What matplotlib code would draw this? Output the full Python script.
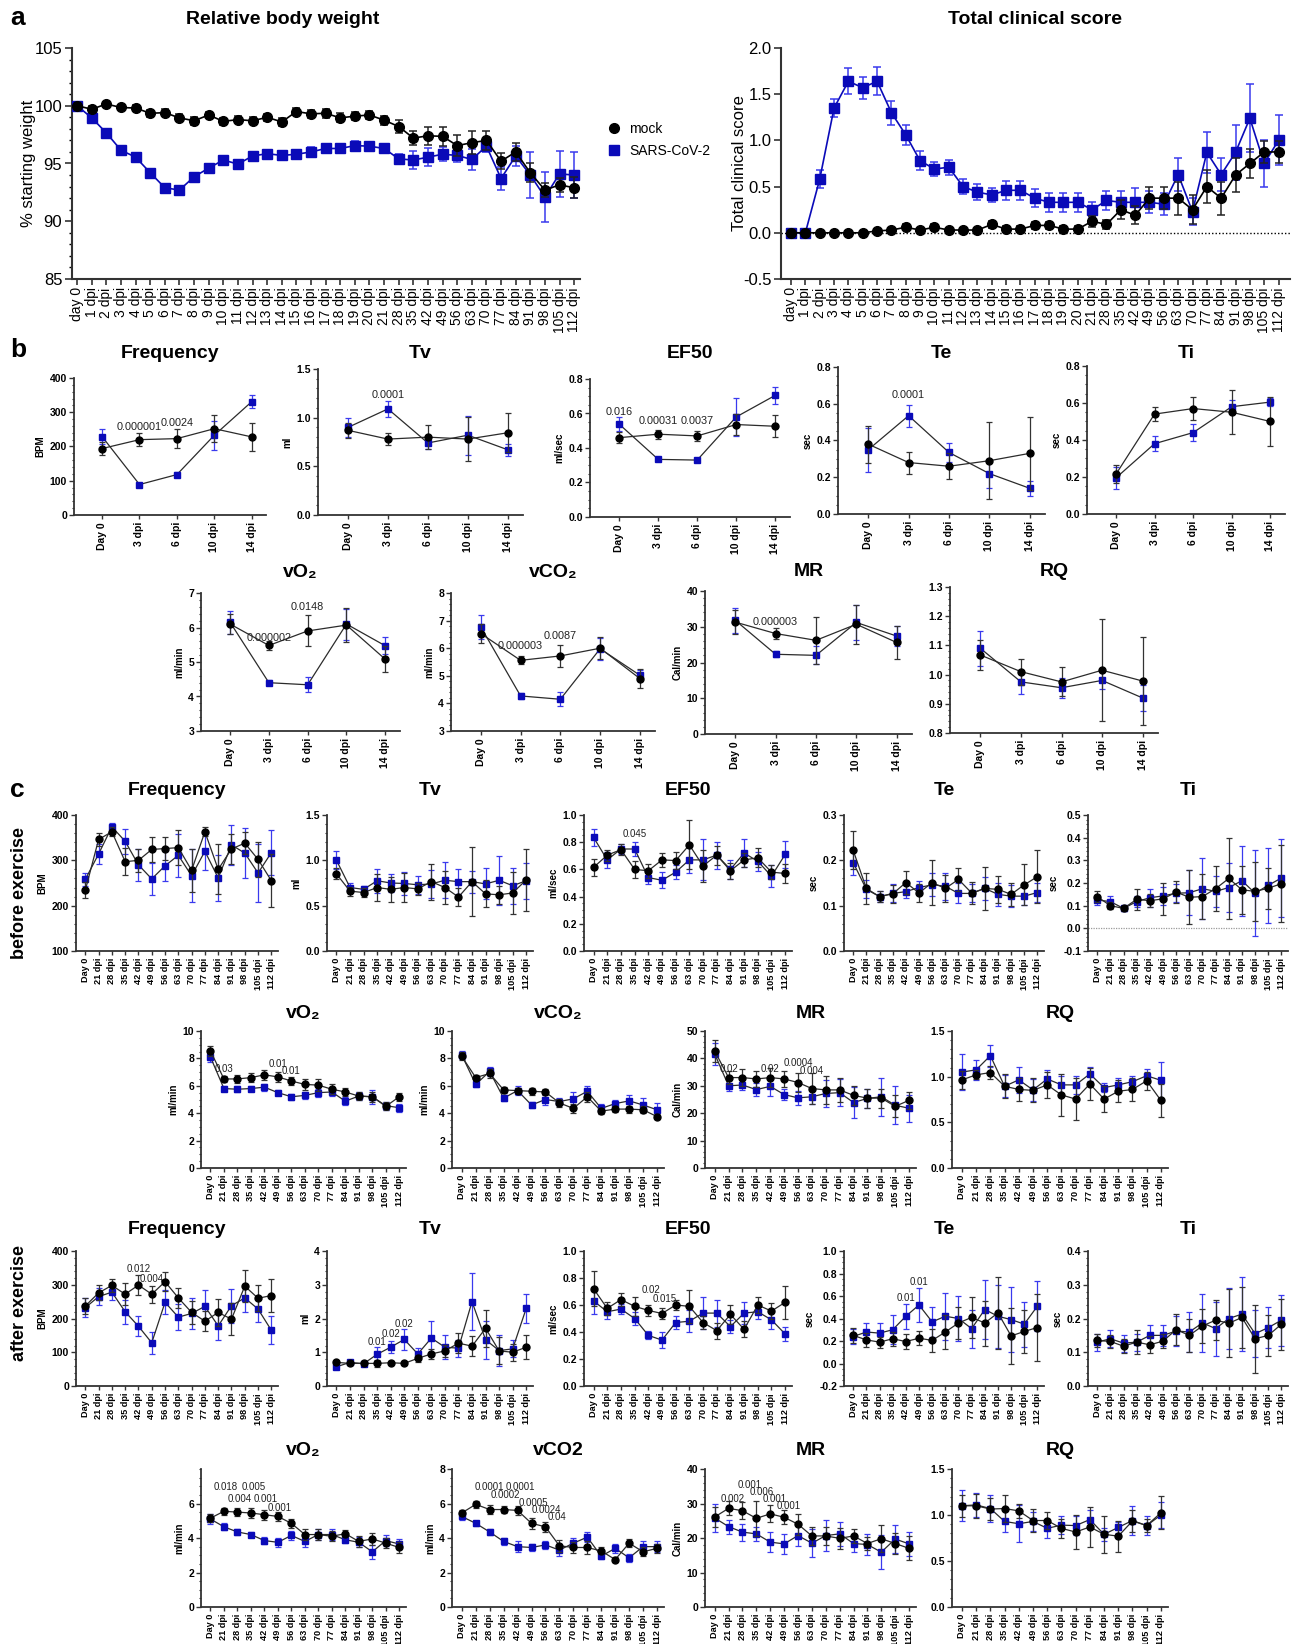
import numpy as np
import matplotlib
matplotlib.use('Agg')
import matplotlib.pyplot as plt
from matplotlib.lines import Line2D
from matplotlib.ticker import MultipleLocator, AutoMinorLocator, FormatStrFormatter, FixedLocator

plt.rcParams['font.family'] = ['Liberation Sans', 'DejaVu Sans']

# ---------------- DATA ----------------
a_ticks = ['day 0', '1 dpi', '2 dpi', '3 dpi', '4 dpi', '5 dpi', '6 dpi', '7 dpi', '8 dpi', '9 dpi',
           '10 dpi', '11 dpi', '12 dpi', '13 dpi', '14 dpi', '15 dpi', '16 dpi', '17 dpi', '18 dpi',
           '19 dpi', '20 dpi', '21 dpi', '28 dpi', '35 dpi', '42 dpi', '49 dpi', '56 dpi', '63 dpi',
           '70 dpi', '77 dpi', '84 dpi', '91 dpi', '98 dpi', '105 dpi', '112 dpi']

bw_mock = [100.0, 99.7, 100.15, 99.85, 99.8, 99.35, 99.4, 98.95, 98.7, 99.2, 98.65, 98.8, 98.7, 99.0,
           98.6, 99.5, 99.3, 99.35, 98.95, 99.1, 99.2, 98.75, 98.2, 97.2, 97.4, 97.35, 96.55, 96.8,
           97.0, 95.2, 96.0, 94.2, 92.7, 93.15, 92.9]
bw_mock_err = [0.1, 0.25, 0.2, 0.2, 0.25, 0.3, 0.3, 0.3, 0.35, 0.3, 0.3, 0.3, 0.3, 0.3, 0.35, 0.3,
               0.35, 0.4, 0.4, 0.35, 0.35, 0.4, 0.6, 0.6, 0.8, 0.8, 0.9, 1.0, 0.8, 0.7, 0.8, 0.8,
               0.6, 0.6, 0.9]
bw_sars = [100.0, 98.95, 97.65, 96.15, 95.55, 94.2, 92.9, 92.7, 93.85, 94.6, 95.3, 94.95, 95.65,
           95.85, 95.7, 95.8, 96.0, 96.3, 96.3, 96.55, 96.5, 96.3, 95.4, 95.3, 95.55, 95.8, 95.7,
           95.35, 96.5, 93.7, 95.65, 94.0, 92.1, 94.1, 94.0]
bw_sars_err = [0.1, 0.15, 0.15, 0.15, 0.2, 0.25, 0.3, 0.35, 0.3, 0.3, 0.3, 0.25, 0.25, 0.25, 0.2,
               0.4, 0.4, 0.4, 0.4, 0.4, 0.4, 0.4, 0.4, 0.8, 0.8, 0.6, 0.6, 0.9, 0.5, 1.0, 0.9,
               2.0, 2.2, 2.0, 2.0]

cs_mock = [0, 0, 0, 0, 0, 0, 0.02, 0.03, 0.06, 0.03, 0.06, 0.03, 0.03, 0.03, 0.09, 0.04, 0.04,
           0.08, 0.08, 0.04, 0.04, 0.125, 0.09, 0.25, 0.19, 0.375, 0.375, 0.375, 0.25, 0.5, 0.375,
           0.625, 0.75, 0.875, 0.875]
cs_mock_err = [0, 0, 0, 0, 0, 0, 0.02, 0.02, 0.03, 0.02, 0.03, 0.02, 0.02, 0.02, 0.04, 0.03, 0.03,
               0.04, 0.04, 0.03, 0.03, 0.06, 0.05, 0.1, 0.1, 0.12, 0.12, 0.18, 0.16, 0.18, 0.18,
               0.18, 0.16, 0.12, 0.12]
cs_sars = [0, 0, 0.58, 1.35, 1.64, 1.57, 1.64, 1.30, 1.06, 0.78, 0.69, 0.71, 0.50, 0.44, 0.41,
           0.46, 0.46, 0.375, 0.33, 0.33, 0.33, 0.25, 0.35, 0.33, 0.33, 0.33, 0.31, 0.63, 0.23,
           0.87, 0.63, 0.87, 1.24, 0.75, 1.0]
cs_sars_err = [0, 0, 0.1, 0.1, 0.14, 0.12, 0.15, 0.13, 0.11, 0.1, 0.08, 0.08, 0.08, 0.09, 0.08,
               0.1, 0.1, 0.1, 0.1, 0.1, 0.1, 0.08, 0.1, 0.12, 0.16, 0.12, 0.12, 0.18, 0.15, 0.22,
               0.18, 0.3, 0.37, 0.25, 0.27]

b_ticks = ['Day 0', '3 dpi', '6 dpi', '10 dpi', '14 dpi']

b_freq_mock = [194, 220, 223, 252, 228]
b_freq_mock_err = [18, 18, 28, 40, 40]
b_freq_sars = [229, 89, 118, 233, 331]
b_freq_sars_err = [22, 5, 8, 42, 18]
b_freq_p = [('0.000001', 1, 257), ('0.0024', 2, 268)]

b_tv_mock = [0.87, 0.78, 0.80, 0.78, 0.845]
b_tv_mock_err = [0.08, 0.06, 0.12, 0.23, 0.2]
b_tv_sars = [0.90, 1.09, 0.74, 0.82, 0.67]
b_tv_sars_err = [0.1, 0.08, 0.06, 0.2, 0.06]
b_tv_p = [('0.0001', 1, 1.23)]

b_ef50_mock = [0.46, 0.48, 0.47, 0.536, 0.526]
b_ef50_mock_err = [0.03, 0.025, 0.03, 0.06, 0.065]
b_ef50_sars = [0.538, 0.334, 0.33, 0.58, 0.705]
b_ef50_sars_err = [0.04, 0.01, 0.01, 0.11, 0.05]
b_ef50_p = [('0.016', 0, 0.61), ('0.00031', 1, 0.555), ('0.0037', 2, 0.555)]

b_te_mock = [0.38, 0.28, 0.26, 0.29, 0.33]
b_te_mock_err = [0.1, 0.06, 0.07, 0.21, 0.2]
b_te_sars = [0.35, 0.535, 0.335, 0.22, 0.14]
b_te_sars_err = [0.12, 0.06, 0.05, 0.08, 0.04]
b_te_p = [('0.0001', 1, 0.645)]

b_ti_mock = [0.215, 0.54, 0.57, 0.55, 0.50]
b_ti_mock_err = [0.05, 0.04, 0.06, 0.12, 0.13]
b_ti_sars = [0.195, 0.38, 0.44, 0.58, 0.605]
b_ti_sars_err = [0.06, 0.04, 0.045, 0.035, 0.02]

b_vo2_mock = [6.1, 5.48, 5.9, 6.07, 5.08]
b_vo2_mock_err = [0.3, 0.12, 0.45, 0.5, 0.38]
b_vo2_sars = [6.15, 4.4, 4.34, 6.1, 5.47]
b_vo2_sars_err = [0.33, 0.08, 0.22, 0.45, 0.25]
b_vo2_p = [('0.000002', 1, 5.7), ('0.0148', 2, 6.58)]

b_vco2_mock = [6.53, 5.56, 5.72, 6.0, 4.9]
b_vco2_mock_err = [0.35, 0.15, 0.4, 0.4, 0.35]
b_vco2_sars = [6.77, 4.27, 4.15, 5.98, 5.02]
b_vco2_sars_err = [0.42, 0.1, 0.25, 0.4, 0.2]
b_vco2_p = [('0.000003', 1, 6.08), ('0.0087', 2, 6.44)]

b_mr_mock = [31.3, 28.1, 26.2, 30.7, 25.6]
b_mr_mock_err = [3.3, 1.5, 6.5, 5.5, 4.5]
b_mr_sars = [31.8, 22.3, 22.0, 31.2, 27.4]
b_mr_sars_err = [3.5, 0.8, 2.5, 5.0, 2.8]
b_mr_p = [('0.000003', 1, 31.3)]

b_rq_mock = [1.067, 1.01, 0.975, 1.015, 0.978]
b_rq_mock_err = [0.05, 0.045, 0.05, 0.175, 0.15]
b_rq_sars = [1.09, 0.975, 0.955, 0.98, 0.92]
b_rq_sars_err = [0.06, 0.04, 0.035, 0.03, 0.045]

c_ticks = ['Day 0', '21 dpi', '28 dpi', '35 dpi', '42 dpi', '49 dpi', '56 dpi', '63 dpi', '70 dpi',
           '77 dpi', '84 dpi', '91 dpi', '98 dpi', '105 dpi', '112 dpi']

# before exercise
cb_freq_mock = [234, 346, 363, 297, 300, 324, 326, 328, 278, 363, 280, 325, 338, 302, 255]
cb_freq_mock_err = [18, 15, 10, 30, 25, 28, 25, 38, 48, 10, 55, 32, 25, 38, 58]
cb_freq_sars = [258, 314, 374, 342, 290, 259, 288, 311, 266, 320, 261, 334, 316, 272, 317]
cb_freq_sars_err = [15, 22, 8, 28, 36, 36, 33, 48, 58, 42, 50, 45, 55, 65, 50]

cb_tv_mock = [0.85, 0.66, 0.645, 0.70, 0.68, 0.70, 0.685, 0.765, 0.70, 0.595, 0.765, 0.63, 0.62, 0.64, 0.785]
cb_tv_mock_err = [0.06, 0.05, 0.05, 0.15, 0.14, 0.16, 0.07, 0.2, 0.18, 0.1, 0.38, 0.15, 0.1, 0.23, 0.34]
cb_tv_sars = [1.0, 0.70, 0.68, 0.775, 0.75, 0.745, 0.73, 0.74, 0.78, 0.765, 0.765, 0.74, 0.78, 0.72, 0.775]
cb_tv_sars_err = [0.1, 0.05, 0.04, 0.13, 0.1, 0.13, 0.1, 0.15, 0.2, 0.14, 0.12, 0.17, 0.27, 0.2, 0.2]

cb_ef50_mock = [0.615, 0.705, 0.745, 0.60, 0.59, 0.67, 0.665, 0.78, 0.625, 0.705, 0.59, 0.67, 0.685, 0.58, 0.57]
cb_ef50_mock_err = [0.06, 0.04, 0.04, 0.06, 0.05, 0.05, 0.06, 0.18, 0.12, 0.07, 0.06, 0.05, 0.07, 0.05, 0.07]
cb_ef50_sars = [0.835, 0.67, 0.75, 0.75, 0.54, 0.52, 0.58, 0.67, 0.67, 0.705, 0.60, 0.72, 0.66, 0.55, 0.71]
cb_ef50_sars_err = [0.06, 0.06, 0.04, 0.05, 0.05, 0.06, 0.05, 0.1, 0.15, 0.1, 0.07, 0.1, 0.07, 0.08, 0.1]
cb_ef50_p = [('0.045', 3, 0.86)]

cb_te_mock = [0.222, 0.138, 0.12, 0.126, 0.151, 0.128, 0.151, 0.138, 0.158, 0.128, 0.138, 0.136, 0.125, 0.146, 0.164]
cb_te_mock_err = [0.042, 0.035, 0.012, 0.02, 0.025, 0.02, 0.05, 0.03, 0.025, 0.025, 0.048, 0.03, 0.025, 0.045, 0.058]
cb_te_sars = [0.195, 0.136, 0.12, 0.127, 0.131, 0.14, 0.146, 0.143, 0.127, 0.127, 0.138, 0.125, 0.121, 0.121, 0.129]
cb_te_sars_err = [0.028, 0.02, 0.012, 0.02, 0.015, 0.015, 0.025, 0.03, 0.022, 0.02, 0.025, 0.025, 0.025, 0.02, 0.02]

cb_ti_mock = [0.14, 0.10, 0.088, 0.128, 0.122, 0.13, 0.16, 0.137, 0.14, 0.175, 0.22, 0.17, 0.163, 0.177, 0.197]
cb_ti_mock_err = [0.025, 0.015, 0.01, 0.045, 0.03, 0.07, 0.05, 0.12, 0.1, 0.1, 0.18, 0.105, 0.13, 0.09, 0.17]
cb_ti_sars = [0.125, 0.118, 0.088, 0.118, 0.135, 0.143, 0.155, 0.157, 0.175, 0.163, 0.18, 0.21, 0.155, 0.19, 0.222]
cb_ti_sars_err = [0.02, 0.025, 0.01, 0.025, 0.04, 0.04, 0.04, 0.1, 0.135, 0.07, 0.11, 0.155, 0.19, 0.165, 0.17]

cb_vo2_mock = [8.55, 6.5, 6.5, 6.6, 6.8, 6.65, 6.35, 6.1, 6.05, 5.75, 5.55, 5.25, 5.2, 4.5, 5.2]
cb_vo2_mock_err = [0.35, 0.2, 0.3, 0.3, 0.35, 0.35, 0.3, 0.4, 0.45, 0.35, 0.3, 0.3, 0.35, 0.3, 0.3]
cb_vo2_sars = [8.1, 5.8, 5.75, 5.8, 5.9, 5.5, 5.2, 5.3, 5.5, 5.55, 4.88, 5.25, 5.2, 4.55, 4.4]
cb_vo2_sars_err = [0.35, 0.2, 0.2, 0.2, 0.25, 0.2, 0.2, 0.25, 0.3, 0.3, 0.3, 0.3, 0.5, 0.3, 0.3]
cb_vo2_p = [('0.03', 1, 7.2), ('0.01', 5, 7.6), ('0.01', 6, 7.1)]

cb_vco2_mock = [8.15, 6.6, 6.9, 5.7, 5.65, 5.6, 5.55, 4.75, 4.35, 5.2, 4.15, 4.3, 4.3, 4.25, 3.75]
cb_vco2_mock_err = [0.3, 0.2, 0.3, 0.2, 0.2, 0.25, 0.25, 0.3, 0.3, 0.35, 0.2, 0.2, 0.25, 0.25, 0.2]
cb_vco2_sars = [8.25, 6.1, 7.05, 5.1, 5.65, 4.6, 5.0, 4.85, 5.05, 5.6, 4.35, 4.7, 4.9, 4.6, 4.25]
cb_vco2_sars_err = [0.3, 0.2, 0.35, 0.2, 0.3, 0.2, 0.4, 0.25, 0.5, 0.4, 0.3, 0.25, 0.45, 0.5, 0.5]

cb_mr_mock = [42.7, 33.0, 33.0, 32.5, 33.0, 32.5, 31.2, 29.0, 28.5, 28.5, 26.5, 25.5, 25.5, 22.5, 24.7]
cb_mr_mock_err = [4, 2.5, 3, 3, 3.5, 3, 3.5, 5.5, 5, 4.5, 3.5, 3.5, 3.5, 4, 3]
cb_mr_sars = [41.6, 30.0, 30.3, 28.6, 29.8, 26.8, 25.6, 26.0, 27.2, 27.5, 23.9, 25.4, 26.0, 22.9, 21.8]
cb_mr_sars_err = [4, 2, 2, 2.5, 3.5, 2, 2.5, 2.5, 5, 5, 5.5, 3.5, 7, 7, 5]
cb_mr_p = [('0.02', 1, 36.3), ('0.02', 4, 36.3), ('0.0004', 6, 38.3), ('0.004', 7, 35.5)]

cb_rq_mock = [0.965, 1.02, 1.045, 0.895, 0.86, 0.85, 0.91, 0.80, 0.755, 0.92, 0.755, 0.84, 0.86, 0.955, 0.74]
cb_rq_mock_err = [0.1, 0.05, 0.07, 0.13, 0.13, 0.13, 0.14, 0.23, 0.23, 0.18, 0.14, 0.12, 0.13, 0.1, 0.18]
cb_rq_sars = [1.05, 1.075, 1.23, 0.895, 0.965, 0.855, 0.975, 0.91, 0.91, 1.03, 0.88, 0.91, 0.945, 1.01, 0.96]
cb_rq_sars_err = [0.2, 0.11, 0.12, 0.12, 0.14, 0.12, 0.1, 0.1, 0.1, 0.08, 0.05, 0.08, 0.06, 0.07, 0.2]

# after exercise
ca_freq_mock = [237, 276, 298, 272, 299, 272, 309, 261, 218, 192, 218, 198, 296, 260, 268]
ca_freq_mock_err = [25, 22, 20, 32, 30, 25, 28, 30, 35, 30, 40, 48, 48, 38, 48]
ca_freq_sars = [232, 265, 278, 220, 177, 128, 248, 204, 215, 236, 178, 238, 261, 228, 165]
ca_freq_sars_err = [28, 25, 22, 35, 30, 33, 35, 38, 45, 47, 42, 50, 42, 38, 42]
ca_freq_p = [('0.012', 4, 346), ('0.004', 5, 317)]

ca_tv_mock = [0.7, 0.67, 0.67, 0.67, 0.69, 0.67, 0.82, 0.95, 1.04, 1.27, 1.18, 1.71, 1.04, 1.0, 1.15]
ca_tv_mock_err = [0.05, 0.05, 0.05, 0.1, 0.05, 0.05, 0.1, 0.15, 0.18, 0.3, 0.3, 0.55, 0.4, 0.25, 0.35]
ca_tv_sars = [0.57, 0.70, 0.66, 0.94, 1.15, 1.38, 0.95, 1.42, 1.15, 1.12, 2.5, 1.37, 1.05, 1.1, 2.3]
ca_tv_sars_err = [0.05, 0.05, 0.05, 0.22, 0.18, 0.3, 0.18, 0.5, 0.35, 0.25, 0.85, 0.57, 0.45, 0.25, 0.42]
ca_tv_p = [('0.01', 3, 1.3), ('0.02', 4, 1.55), ('0.02', 5, 1.85)]

ca_ef50_mock = [0.72, 0.575, 0.64, 0.59, 0.56, 0.537, 0.60, 0.59, 0.47, 0.41, 0.53, 0.42, 0.60, 0.555, 0.62]
ca_ef50_mock_err = [0.13, 0.05, 0.05, 0.07, 0.04, 0.04, 0.04, 0.12, 0.05, 0.06, 0.07, 0.06, 0.06, 0.06, 0.12]
ca_ef50_sars = [0.63, 0.55, 0.57, 0.50, 0.375, 0.34, 0.47, 0.48, 0.54, 0.54, 0.44, 0.54, 0.55, 0.49, 0.385]
ca_ef50_sars_err = [0.1, 0.05, 0.04, 0.05, 0.03, 0.06, 0.05, 0.08, 0.12, 0.1, 0.05, 0.08, 0.05, 0.07, 0.05]
ca_ef50_p = [('0.02', 4.2, 0.71), ('0.015', 5.2, 0.645)]

ca_te_mock = [0.25, 0.21, 0.19, 0.22, 0.195, 0.225, 0.205, 0.28, 0.36, 0.41, 0.36, 0.45, 0.245, 0.285, 0.32]
ca_te_mock_err = [0.07, 0.06, 0.05, 0.06, 0.07, 0.06, 0.1, 0.15, 0.14, 0.18, 0.2, 0.32, 0.25, 0.19, 0.3]
ca_te_sars = [0.24, 0.28, 0.27, 0.30, 0.42, 0.52, 0.37, 0.42, 0.40, 0.31, 0.48, 0.42, 0.39, 0.35, 0.51]
ca_te_sars_err = [0.07, 0.08, 0.09, 0.13, 0.11, 0.15, 0.13, 0.21, 0.2, 0.17, 0.26, 0.28, 0.29, 0.2, 0.22]
ca_te_p = [('0.01', 4, 0.58), ('0.01', 5, 0.725)]

ca_ti_mock = [0.135, 0.132, 0.118, 0.13, 0.122, 0.133, 0.167, 0.15, 0.178, 0.195, 0.186, 0.203, 0.14, 0.15, 0.183]
ca_ti_mock_err = [0.02, 0.02, 0.02, 0.035, 0.025, 0.02, 0.045, 0.05, 0.05, 0.06, 0.1, 0.09, 0.1, 0.06, 0.075]
ca_ti_sars = [0.13, 0.14, 0.127, 0.13, 0.15, 0.15, 0.163, 0.16, 0.187, 0.17, 0.2, 0.213, 0.155, 0.173, 0.195]
ca_ti_sars_err = [0.025, 0.025, 0.025, 0.025, 0.03, 0.03, 0.045, 0.06, 0.085, 0.08, 0.09, 0.11, 0.07, 0.06, 0.075]

ca_vo2_mock = [5.15, 5.55, 5.5, 5.45, 5.35, 5.25, 4.85, 4.2, 4.2, 4.1, 4.25, 3.8, 3.95, 3.7, 3.45]
ca_vo2_mock_err = [0.25, 0.2, 0.25, 0.3, 0.3, 0.25, 0.25, 0.3, 0.3, 0.3, 0.2, 0.3, 0.35, 0.3, 0.3]
ca_vo2_sars = [5.1, 4.65, 4.35, 4.2, 3.85, 3.75, 4.15, 3.8, 4.2, 4.2, 3.9, 3.75, 3.2, 3.85, 3.65]
ca_vo2_sars_err = [0.3, 0.2, 0.2, 0.15, 0.2, 0.25, 0.25, 0.3, 0.3, 0.3, 0.2, 0.3, 0.4, 0.3, 0.3]
ca_vo2_p = [('0.018', 1.1, 6.95), ('0.004', 2.2, 6.25), ('0.005', 3.2, 6.95), ('0.001', 4.1, 6.25),
            ('0.001', 5.1, 5.75)]

ca_vco2_mock = [5.45, 5.95, 5.65, 5.65, 5.6, 4.85, 4.65, 3.55, 3.45, 3.45, 3.25, 2.75, 3.7, 3.2, 3.4]
ca_vco2_mock_err = [0.2, 0.2, 0.25, 0.2, 0.25, 0.3, 0.3, 0.35, 0.3, 0.35, 0.2, 0.15, 0.25, 0.25, 0.25]
ca_vco2_sars = [5.25, 4.85, 4.35, 3.8, 3.5, 3.45, 3.6, 3.3, 3.7, 4.05, 2.95, 3.4, 2.85, 3.5, 3.5]
ca_vco2_sars_err = [0.2, 0.15, 0.15, 0.2, 0.3, 0.2, 0.25, 0.35, 0.3, 0.3, 0.15, 0.25, 0.25, 0.3, 0.3]
ca_vco2_p = [('0.0001', 2.0, 6.95), ('0.0002', 3.1, 6.5), ('0.0001', 4.2, 6.95), ('0.0005', 5.1, 6.05),
             ('0.0024', 6.1, 5.6), ('0.04', 6.8, 5.2)]

ca_mr_mock = [26.1, 28.6, 27.9, 25.7, 27.0, 26.0, 24.0, 20.6, 20.6, 19.9, 20.6, 18.4, 19.8, 18.4, 17.0]
ca_mr_mock_err = [3, 2, 2.5, 5, 2.5, 2, 3, 2.5, 2.5, 3, 2, 2, 4, 3, 3.5]
ca_mr_sars = [25.8, 23.3, 21.7, 21.2, 18.8, 18.3, 20.7, 18.5, 20.7, 21.2, 18.4, 18.1, 15.9, 19.7, 18.3]
ca_mr_sars_err = [4, 2, 2.5, 2, 3, 3, 3, 4, 4.5, 3.5, 2.5, 3, 5, 4, 3.5]
ca_mr_p = [('0.002', 1.3, 31.3), ('0.001', 2.5, 35.4), ('0.006', 3.4, 33.4), ('0.001', 4.3, 31.3),
           ('0.001', 5.3, 29.2)]

ca_rq_mock = [1.1, 1.1, 1.065, 1.07, 1.045, 0.94, 0.94, 0.855, 0.815, 0.87, 0.79, 0.77, 0.935, 0.885, 1.025]
ca_rq_mock_err = [0.12, 0.13, 0.12, 0.15, 0.08, 0.12, 0.09, 0.1, 0.18, 0.22, 0.2, 0.17, 0.12, 0.07, 0.18]
ca_rq_sars = [1.1, 1.11, 1.07, 0.93, 0.905, 0.93, 0.855, 0.89, 0.885, 0.95, 0.79, 0.865, 0.94, 0.885, 1.0]
ca_rq_sars_err = [0.17, 0.13, 0.15, 0.12, 0.2, 0.1, 0.1, 0.1, 0.1, 0.1, 0.07, 0.06, 0.16, 0.1, 0.14]

# ---------------- STYLE ----------------
W, H = 1293, 1644
fig = plt.figure(figsize=(W / 100, H / 100), dpi=100)
fig.patch.set_facecolor('white')

SARS_C = '#0a0ab8'
SARS_ERR = '#3a3aee'
LINE_C = '#2b2b2b'
SPINE_C = '#333333'


def new_ax(x0, x1, yt, yb):
    return fig.add_axes([x0 / W, 1 - yb / H, (x1 - x0) / W, (yb - yt) / H])


def style_spines(ax, lw=1.4):
    for s in ['top', 'right']:
        ax.spines[s].set_visible(False)
    for s in ['left', 'bottom']:
        ax.spines[s].set_linewidth(lw)
        ax.spines[s].set_color(SPINE_C)


# ---------------- PANEL a ----------------
xa = np.arange(len(a_ticks))

ax_bw = new_ax(72, 580, 48, 279)
ax_bw.errorbar(xa, bw_sars, yerr=bw_sars_err, fmt='-s', color=SARS_C, lw=1.2, ms=6.5,
               mfc=SARS_C, mec=SARS_C, ecolor=SARS_ERR, elinewidth=1.1, capsize=3, capthick=1.1, zorder=3)
ax_bw.errorbar(xa, bw_mock, yerr=bw_mock_err, fmt='-o', color='black', lw=1.2, ms=7,
               mfc='black', mec='black', ecolor='#222222', elinewidth=1.1, capsize=3, capthick=1.1, zorder=4)
ax_bw.set_xlim(-0.35, len(a_ticks) - 1 + 0.4)
ax_bw.set_ylim(85, 105)
ax_bw.yaxis.set_major_locator(MultipleLocator(5))
ax_bw.yaxis.set_minor_locator(MultipleLocator(1))
ax_bw.set_ylabel('% starting weight', fontsize=12, labelpad=-1)

ax_cs = new_ax(781, 1290, 48, 279)
ax_cs.axhline(0, color='black', lw=1.0, ls=(0, (1, 1.5)), zorder=1)
ax_cs.errorbar(xa, cs_sars, yerr=cs_sars_err, fmt='-s', color=SARS_C, lw=1.2, ms=6.5,
               mfc=SARS_C, mec=SARS_C, ecolor=SARS_ERR, elinewidth=1.1, capsize=3, capthick=1.1, zorder=3)
ax_cs.errorbar(xa, cs_mock, yerr=cs_mock_err, fmt='-o', color='black', lw=1.2, ms=7,
               mfc='black', mec='black', ecolor='#222222', elinewidth=1.1, capsize=3, capthick=1.1, zorder=4)
ax_cs.set_xlim(-0.7, len(a_ticks) - 1 + 0.8)
ax_cs.set_ylim(-0.5, 2.0)
ax_cs.yaxis.set_major_locator(MultipleLocator(0.5))
ax_cs.yaxis.set_major_formatter(FormatStrFormatter('%.1f'))
ax_cs.set_ylabel('Total clinical score', fontsize=12, labelpad=-3)

for ax in (ax_bw, ax_cs):
    style_spines(ax, 1.5)
    ax.set_xticks(xa)
    ax.set_xticklabels(a_ticks, rotation=90, fontsize=10)
    ax.tick_params(axis='y', labelsize=12, length=5, width=1.2, pad=2, colors=SPINE_C, labelcolor='black')
    ax.tick_params(axis='y', which='minor', length=2.5, width=1.0)
    ax.tick_params(axis='x', length=4, width=1.2, pad=2, colors=SPINE_C, labelcolor='black')

fig.text(283 / W, 1 - 19 / H, 'Relative body weight', ha='center', va='center',
         fontsize=14, fontweight='bold')
fig.text(1035 / W, 1 - 19 / H, 'Total clinical score', ha='center', va='center',
         fontsize=14, fontweight='bold')

leg_handles = [Line2D([], [], marker='o', color='black', ls='None', ms=7),
               Line2D([], [], marker='s', color=SARS_C, ls='None', ms=6.5)]
fig.legend(leg_handles, ['mock', 'SARS-CoV-2'], loc='upper left',
           bbox_to_anchor=(600 / W, 1 - 115 / H), frameon=False, fontsize=10,
           handlelength=1.0, handletextpad=0.6, labelspacing=0.55, borderpad=0)

# ---------------- small panels ----------------
def small_panel(rect, ticks, mock, mock_e, sars, sars_e, title, title_y, ylabel, ylim,
                ystep, fmt, pvals=(), zero=False, yticks=None, nminor=5):
    x0, x1, yt, yb = rect
    ax = new_ax(x0, x1, yt, yb)
    x = np.arange(len(ticks))
    if zero:
        ax.axhline(0, color='#9a9a9a', lw=0.9, ls=(0, (1, 1)), zorder=0)
    ax.errorbar(x, sars, yerr=sars_e, fmt='-s', color=LINE_C, lw=0.9, ms=4.8,
                mfc=SARS_C, mec=SARS_C, ecolor=SARS_ERR, elinewidth=0.9, capsize=2.2,
                capthick=0.9, zorder=3)
    ax.errorbar(x, mock, yerr=mock_e, fmt='-o', color=LINE_C, lw=0.9, ms=5,
                mfc='black', mec='black', ecolor='#333333', elinewidth=0.9, capsize=2.2,
                capthick=0.9, zorder=4)
    n = len(ticks)
    if n == 5:
        ax.set_xlim(-0.75, n - 1 + 0.38)
        xfs = 7.5
        pfs = 7.8
    else:
        ax.set_xlim(-0.7, n - 1 + 0.5)
        xfs = 6.6
        pfs = 7.0
    ax.set_ylim(*ylim)
    if yticks is not None:
        ax.yaxis.set_major_locator(FixedLocator(yticks))
    else:
        ax.yaxis.set_major_locator(MultipleLocator(ystep))
    ax.yaxis.set_major_formatter(FormatStrFormatter(fmt))
    ax.yaxis.set_minor_locator(AutoMinorLocator(nminor))
    ax.set_xticks(x)
    ax.set_xticklabels(ticks, rotation=90, fontsize=xfs, fontweight='bold')
    for lbl in ax.get_yticklabels():
        lbl.set_fontweight('bold')
    ax.tick_params(axis='y', labelsize=7.5, length=3.5, width=1.0, pad=1.5,
                   colors=SPINE_C, labelcolor='black')
    ax.tick_params(axis='y', which='minor', length=1.8, width=0.8, colors=SPINE_C)
    ax.tick_params(axis='x', length=3, width=1.0, pad=2, colors=SPINE_C, labelcolor='black')
    style_spines(ax, 1.3)
    ax.set_ylabel(ylabel, fontsize=7, fontweight='bold', labelpad=3)
    for (s, px, py) in pvals:
        ax.text(px, py, s, ha='center', va='center', fontsize=pfs, color='#222222', zorder=5)
    fig.text((x0 + x1) / 2 / W, 1 - title_y / H, title, ha='center', va='center',
             fontsize=14, fontweight='bold')
    return ax


# panel b, row 1
small_panel((74, 266, 378, 515), b_ticks, b_freq_mock, b_freq_mock_err, b_freq_sars, b_freq_sars_err,
            'Frequency', 353, 'BPM', (0, 400), 100, '%d', b_freq_p)
small_panel((318, 523, 369, 515), b_ticks, b_tv_mock, b_tv_mock_err, b_tv_sars, b_tv_sars_err,
            'Tv', 353, 'ml', (0, 1.5), 0.5, '%.1f', b_tv_p)
small_panel((590, 790, 379, 517), b_ticks, b_ef50_mock, b_ef50_mock_err, b_ef50_sars, b_ef50_sars_err,
            'EF50', 353, 'ml/sec', (0, 0.8), 0.2, '%.1f', b_ef50_p, nminor=4)
small_panel((838, 1045, 367, 514), b_ticks, b_te_mock, b_te_mock_err, b_te_sars, b_te_sars_err,
            'Te', 353, 'sec', (0, 0.8), 0.2, '%.1f', b_te_p, nminor=4)
small_panel((1087, 1285, 366, 514), b_ticks, b_ti_mock, b_ti_mock_err, b_ti_sars, b_ti_sars_err,
            'Ti', 353, 'sec', (0, 0.8), 0.2, '%.1f', nminor=4)

# panel b, row 2
small_panel((201, 400, 593, 731), b_ticks, b_vo2_mock, b_vo2_mock_err, b_vo2_sars, b_vo2_sars_err,
            'vO₂', 572, 'ml/min', (3, 7), 1, '%d', b_vo2_p)
small_panel((451, 655, 593, 731), b_ticks, b_vco2_mock, b_vco2_mock_err, b_vco2_sars, b_vco2_sars_err,
            'vCO₂', 572, 'ml/min', (3, 8), 1, '%d', b_vco2_p)
small_panel((705, 912, 591, 734), b_ticks, b_mr_mock, b_mr_mock_err, b_mr_sars, b_mr_sars_err,
            'MR', 572, 'Cal/min', (0, 40), 10, '%d', b_mr_p)
small_panel((950, 1158, 587, 733), b_ticks, b_rq_mock, b_rq_mock_err, b_rq_sars, b_rq_sars_err,
            'RQ', 572, '', (0.8, 1.3), 0.1, '%.1f')

# panel c, before exercise row 1
R1 = (815, 951)
small_panel((76, 278) + R1, c_ticks, cb_freq_mock, cb_freq_mock_err, cb_freq_sars, cb_freq_sars_err,
            'Frequency', 790, 'BPM', (100, 400), 100, '%d')
small_panel((327, 533) + R1, c_ticks, cb_tv_mock, cb_tv_mock_err, cb_tv_sars, cb_tv_sars_err,
            'Tv', 790, 'ml', (0, 1.5), 0.5, '%.1f')
small_panel((584, 792) + R1, c_ticks, cb_ef50_mock, cb_ef50_mock_err, cb_ef50_sars, cb_ef50_sars_err,
            'EF50', 790, 'ml/sec', (0, 1.0), 0.2, '%.1f', cb_ef50_p, nminor=4)
small_panel((844, 1044) + R1, c_ticks, cb_te_mock, cb_te_mock_err, cb_te_sars, cb_te_sars_err,
            'Te', 790, 'sec', (0, 0.3), 0.1, '%.1f')
small_panel((1088, 1288) + R1, c_ticks, cb_ti_mock, cb_ti_mock_err, cb_ti_sars, cb_ti_sars_err,
            'Ti', 790, 'sec', (-0.1, 0.5), 0.1, '%.1f', zero=True)

# panel c, before exercise row 2
R2 = (1031, 1168)
small_panel((201, 406) + R2, c_ticks, cb_vo2_mock, cb_vo2_mock_err, cb_vo2_sars, cb_vo2_sars_err,
            'vO₂', 1013, 'ml/min', (0, 10), 2, '%d', cb_vo2_p, nminor=4)
small_panel((452, 664) + R2, c_ticks, cb_vco2_mock, cb_vco2_mock_err, cb_vco2_sars, cb_vco2_sars_err,
            'vCO₂', 1013, 'ml/min', (0, 10), 2, '%d', nminor=4)
small_panel((705, 916) + R2, c_ticks, cb_mr_mock, cb_mr_mock_err, cb_mr_sars, cb_mr_sars_err,
            'MR', 1013, 'Cal/min', (0, 50), 10, '%d', cb_mr_p)
small_panel((952, 1168) + R2, c_ticks, cb_rq_mock, cb_rq_mock_err, cb_rq_sars, cb_rq_sars_err,
            'RQ', 1013, '', (0, 1.5), 0.5, '%.1f')

# panel c, after exercise row 1
R3 = (1251, 1386)
small_panel((76, 278) + R3, c_ticks, ca_freq_mock, ca_freq_mock_err, ca_freq_sars, ca_freq_sars_err,
            'Frequency', 1229, 'BPM', (0, 400), 100, '%d', ca_freq_p)
small_panel((327, 533) + R3, c_ticks, ca_tv_mock, ca_tv_mock_err, ca_tv_sars, ca_tv_sars_err,
            'Tv', 1229, 'ml', (0, 4), 1, '%d', ca_tv_p)
small_panel((584, 792) + R3, c_ticks, ca_ef50_mock, ca_ef50_mock_err, ca_ef50_sars, ca_ef50_sars_err,
            'EF50', 1229, 'ml/sec', (0, 1.0), 0.2, '%.1f', ca_ef50_p, nminor=4)
small_panel((844, 1044) + R3, c_ticks, ca_te_mock, ca_te_mock_err, ca_te_sars, ca_te_sars_err,
            'Te', 1229, 'sec', (-0.2, 1.0), 0.2, '%.1f', ca_te_p, nminor=4)
small_panel((1088, 1288) + R3, c_ticks, ca_ti_mock, ca_ti_mock_err, ca_ti_sars, ca_ti_sars_err,
            'Ti', 1229, 'sec', (0, 0.4), 0.1, '%.1f')

# panel c, after exercise row 2
R4 = (1469, 1607)
small_panel((201, 406) + R4, c_ticks, ca_vo2_mock, ca_vo2_mock_err, ca_vo2_sars, ca_vo2_sars_err,
            'vO₂', 1450, 'ml/min', (0, 8), 2, '%d', ca_vo2_p, yticks=[0, 2, 4, 6], nminor=4)
small_panel((452, 664) + R4, c_ticks, ca_vco2_mock, ca_vco2_mock_err, ca_vco2_sars, ca_vco2_sars_err,
            'vCO2', 1450, 'ml/min', (0, 8), 2, '%d', ca_vco2_p, nminor=4)
small_panel((705, 916) + R4, c_ticks, ca_mr_mock, ca_mr_mock_err, ca_mr_sars, ca_mr_sars_err,
            'MR', 1450, 'Cal/min', (0, 40), 10, '%d', ca_mr_p)
small_panel((952, 1168) + R4, c_ticks, ca_rq_mock, ca_rq_mock_err, ca_rq_sars, ca_rq_sars_err,
            'RQ', 1450, '', (0, 1.5), 0.5, '%.1f')

# section labels
fig.text(10 / W, 1 - 18 / H, 'a', fontsize=19, fontweight='bold', va='center', ha='left')
fig.text(10 / W, 1 - 350 / H, 'b', fontsize=19, fontweight='bold', va='center', ha='left')
fig.text(10 / W, 1 - 790 / H, 'c', fontsize=19, fontweight='bold', va='center', ha='left')
fig.text(20 / W, 1 - 893 / H, 'before exercise', rotation=90, fontsize=13, fontweight='bold',
         va='center', ha='center')
fig.text(20 / W, 1 - 1303 / H, 'after exercise', rotation=90, fontsize=13, fontweight='bold',
         va='center', ha='center')

fig.savefig('out.png', dpi=100)
